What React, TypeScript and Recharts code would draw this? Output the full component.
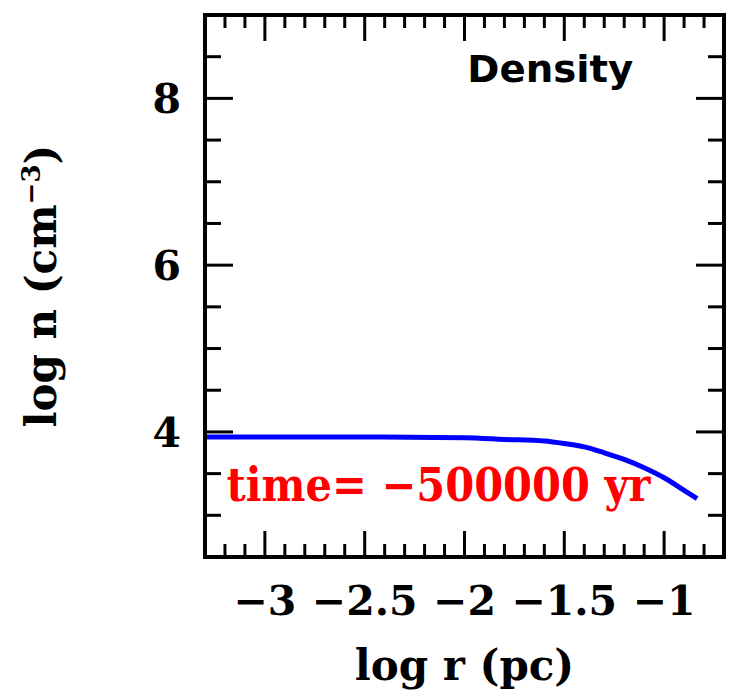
import { LineChart, Line, XAxis, YAxis, ReferenceDot, Label } from 'recharts';

const logR = [-3.3, -3.0, -2.5, -2.0, -1.8, -1.6, -1.5, -1.4, -1.3, -1.2, -1.1, -1.0, -0.9, -0.835];
const logN = [3.94, 3.94, 3.94, 3.93, 3.91, 3.89, 3.86, 3.82, 3.75, 3.67, 3.57, 3.45, 3.3, 3.2];

const xTicks = [-3.3, -3.2, -3.1, -3.0, -2.9, -2.8, -2.7, -2.6, -2.5, -2.4, -2.3, -2.2, -2.1, -2.0,
  -1.9, -1.8, -1.7, -1.6, -1.5, -1.4, -1.3, -1.2, -1.1, -1.0, -0.9, -0.8, -0.7];
const xMajor = [-3, -2.5, -2, -1.5, -1];
const yTicks = [2.5, 3, 3.5, 4, 4.5, 5, 5.5, 6, 6.5, 7, 7.5, 8, 8.5, 9];
const yMajor = [4, 6, 8];

const data = logR.map((r, i) => ({ r, n: logN[i] }));

// layout
const CHART_W = 734;
const CHART_H = 695;
const TOP_H = 15;
const BOTTOM_H = 138;
const PLOT_H = CHART_H - TOP_H - BOTTOM_H;

const serif = '"DejaVu Serif", serif';
const sans = '"DejaVu Sans", sans-serif';

const isMajor = (list: number[], v: number) => list.some((m) => Math.abs(m - v) < 1e-6);
const fmt = (v: number) => String(v).replace('-', '\u2212');

// bottom ticks also draw the matching inward ticks on the top edge of the frame
const BottomTick = (props: any) => {
  const { x, y, payload } = props;
  const major = isMajor(xMajor, payload.value);
  const len = major ? 26 : 13;
  const top = y - PLOT_H;
  return (
    <g>
      <line x1={x} x2={x} y1={y} y2={y - len} stroke="#000" strokeWidth={3} />
      <line x1={x} x2={x} y1={top} y2={top + len} stroke="#000" strokeWidth={3} />
      {major && (
        <text x={x} y={y + 58} textAnchor="middle" fontFamily={serif} fontWeight="bold" fontSize={41} fill="#000">
          {fmt(payload.value)}
        </text>
      )}
    </g>
  );
};

const LeftTick = (props: any) => {
  const { x, y, payload } = props;
  const major = isMajor(yMajor, payload.value);
  return (
    <g>
      <line x1={x} x2={x + (major ? 28 : 16)} y1={y} y2={y} stroke="#000" strokeWidth={3} />
      {major && (
        <text x={x - 24} y={y + 15} textAnchor="end" fontFamily={serif} fontWeight="bold" fontSize={41} fill="#000">
          {fmt(payload.value)}
        </text>
      )}
    </g>
  );
};

const RightTick = (props: any) => {
  const { x, y, payload } = props;
  const major = isMajor(yMajor, payload.value);
  return (
    <g>
      <line x1={x} x2={x - (major ? 28 : 16)} y1={y} y2={y} stroke="#000" strokeWidth={3} />
    </g>
  );
};

const frame = { stroke: '#000', strokeWidth: 4, strokeLinecap: 'square' as const };

export default function App() {
  return (
    <div style={{ position: 'relative', left: -8, top: -8, background: '#fff', width: CHART_W, height: CHART_H }}>
      <LineChart width={CHART_W} height={CHART_H} data={data} margin={{ top: 0, right: 0, bottom: 0, left: 0 }}>
        <XAxis
          xAxisId="t"
          dataKey="r"
          orientation="top"
          type="number"
          domain={[-3.3, -0.7]}
          allowDataOverflow
          height={TOP_H}
          tick={false}
          tickLine={false}
          axisLine={frame}
        />
        <YAxis
          yAxisId="l"
          type="number"
          domain={[2.5, 9]}
          ticks={yTicks}
          interval={0}
          allowDataOverflow
          width={205}
          tickSize={0}
          tickMargin={0}
          tickLine={false}
          axisLine={frame}
          tick={LeftTick}
        >
          <Label
            content={(p: any) => {
              const cx = p.viewBox.x + 56;
              const cy = p.viewBox.y + p.viewBox.height / 2;
              return (
                <text
                  x={cx}
                  y={cy}
                  transform={`rotate(-90 ${cx} ${cy})`}
                  textAnchor="middle"
                  fontFamily={serif}
                  fontWeight="bold"
                  fontSize={42}
                  fill="#000"
                >
                  log n (cm
                  <tspan fontSize={26} dy={-16}>{'\u22123'}</tspan>
                  <tspan dy={16}>)</tspan>
                </text>
              );
            }}
          />
        </YAxis>
        <YAxis
          yAxisId="r"
          orientation="right"
          type="number"
          domain={[2.5, 9]}
          ticks={yTicks}
          interval={0}
          allowDataOverflow
          width={10}
          tickSize={0}
          tickMargin={0}
          tickLine={false}
          axisLine={frame}
          tick={RightTick}
        />
        <Line
          xAxisId="b"
          yAxisId="l"
          dataKey="n"
          type="monotone"
          stroke="#0000ff"
          strokeWidth={5}
          dot={false}
          isAnimationActive={false}
        />
        <ReferenceDot
          xAxisId="b"
          yAxisId="l"
          x={-1.57}
          y={8.36}
          r={1}
          fill="none"
          stroke="none"
          label={{
            content: (p: any) => (
              <text
                x={p.viewBox.x + p.viewBox.width / 2}
                y={p.viewBox.y + p.viewBox.height / 2 + 14}
                textAnchor="middle"
                fontFamily={sans}
                fontWeight="bold"
                fontSize={38}
                fill="#000"
                textLength={166}
                lengthAdjust="spacingAndGlyphs"
              >
                Density
              </text>
            ),
          }}
        />
        <ReferenceDot
          xAxisId="b"
          yAxisId="l"
          x={-2.13}
          y={3.38}
          r={1}
          fill="none"
          stroke="none"
          label={{
            content: (p: any) => (
              <text
                x={p.viewBox.x + p.viewBox.width / 2}
                y={p.viewBox.y + p.viewBox.height / 2 + 17}
                textAnchor="middle"
                fontFamily={serif}
                fontWeight="bold"
                fontSize={46}
                fill="#ff0000"
                textLength={424}
                lengthAdjust="spacingAndGlyphs"
              >
                {'time= \u2212500000 yr'}
              </text>
            ),
          }}
        />
        {/* bottom axis last so its tick group (which also draws the top ticks) sits above everything */}
        <XAxis
          xAxisId="b"
          dataKey="r"
          type="number"
          domain={[-3.3, -0.7]}
          ticks={xTicks}
          interval={0}
          allowDataOverflow
          height={BOTTOM_H}
          tickSize={0}
          tickMargin={0}
          tickLine={false}
          axisLine={frame}
          tick={BottomTick}
        >
          <Label
            content={(p: any) => (
              <text
                x={p.viewBox.x + p.viewBox.width / 2}
                y={p.viewBox.y + 123}
                textAnchor="middle"
                fontFamily={serif}
                fontWeight="bold"
                fontSize={42}
                fill="#000"
              >
                log r (pc)
              </text>
            )}
          />
        </XAxis>
      </LineChart>
    </div>
  );
}
